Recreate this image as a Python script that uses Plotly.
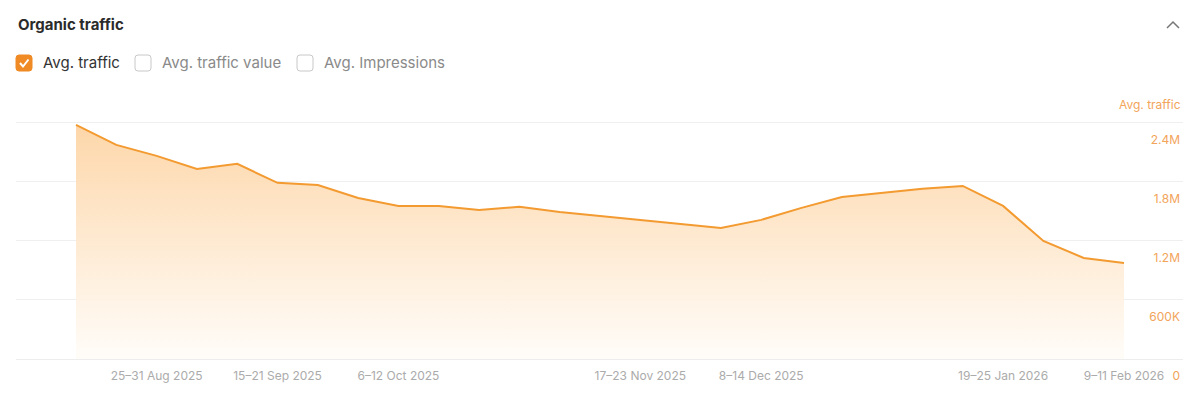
import plotly.graph_objects as go

# ---- data ----
weeks = [
    "11–17 Aug 2025", "18–24 Aug 2025", "25–31 Aug 2025", "1–7 Sep 2025",
    "8–14 Sep 2025", "15–21 Sep 2025", "22–28 Sep 2025", "29 Sep–5 Oct 2025",
    "6–12 Oct 2025", "13–19 Oct 2025", "20–26 Oct 2025", "27 Oct–2 Nov 2025",
    "3–9 Nov 2025", "10–16 Nov 2025", "17–23 Nov 2025", "24–30 Nov 2025",
    "1–7 Dec 2025", "8–14 Dec 2025", "15–21 Dec 2025", "22–28 Dec 2025",
    "29 Dec 2025–4 Jan 2026", "5–11 Jan 2026", "12–18 Jan 2026", "19–25 Jan 2026",
    "26 Jan–1 Feb 2026", "2–8 Feb 2026", "9–11 Feb 2026",
]
avg_traffic = [
    2380000, 2176000, 2064000, 1932000, 1983000, 1790000, 1769000, 1637000,
    1556000, 1556000, 1515000, 1546000, 1495000, 1454000, 1414000, 1373000,
    1332000, 1414000, 1536000, 1647000, 1688000, 1729000, 1759000, 1556000,
    1200000, 1027000, 976000,
]
shown_ticks = ["25–31 Aug 2025", "15–21 Sep 2025", "6–12 Oct 2025", "17–23 Nov 2025",
               "8–14 Dec 2025", "19–25 Jan 2026", "9–11 Feb 2026"]
y_tickvals = [0, 600000, 1200000, 1800000, 2400000]
y_ticktext = ["0", "600K", "1.2M", "1.8M", "2.4M"]

# ---- layout geometry (pixels) ----
W, H = 1200, 396
PL, PR, PT, PB = 16, 1183, 113, 359
pw, ph = PR - PL, PB - PT


def px(x):
    return (x - PL) / pw


def py(y):
    return (PB - y) / ph


ORANGE = "#F39A30"
FONT = "Inter, 'Open Sans', sans-serif"

fig = go.Figure()
fig.add_trace(go.Scatter(
    x=weeks, y=avg_traffic, mode="lines",
    line=dict(color=ORANGE, width=2),
    fill="tozeroy",
    fillgradient=dict(type="vertical", start=0, stop=2400000,
                      colorscale=[[0, "rgba(255,252,248,0.9)"], [1, "rgba(253,212,164,0.95)"]]),
    hoverinfo="skip", showlegend=False,
))

# x range so that first point sits at x=76 and last at x=1124
step = (1124 - 76) / (len(weeks) - 1)
xr0 = -(76 - PL) / step
xr1 = (len(weeks) - 1) + (PR - 1124) / step

fig.update_layout(
    width=W, height=H,
    margin=dict(l=PL, r=W - PR, t=PT, b=H - PB, pad=0),
    paper_bgcolor="white", plot_bgcolor="white",
    font=dict(family=FONT, size=12, color="#333"),
    xaxis=dict(
        type="category", categoryorder="array", categoryarray=weeks,
        range=[xr0, xr1], showgrid=False, zeroline=False,
        showline=True, linecolor="#EDEDED", linewidth=1,
        tickvals=shown_ticks, ticks="", tickfont=dict(size=12, color="#ABABAB"),
        ticklabelstandoff=6,
    ),
    yaxis=dict(
        range=[0, 2500000], side="right", tickvals=y_tickvals, ticktext=y_ticktext,
        ticklabelposition="inside", ticklabelshift=17, ticklabeloverflow="allow",
        tickfont=dict(size=12, color="#F2A45A"), ticks="",
        showgrid=True, gridcolor="#EFEFEF", gridwidth=1, zeroline=False, showline=False,
    ),
)

ann = [
    dict(text="<b>Organic traffic</b>", x=px(16), y=py(24), xanchor="left", yanchor="middle",
         font=dict(size=15, color="#2B2B2B")),
    dict(text="Avg. traffic", x=px(41), y=py(63), xanchor="left", yanchor="middle",
         font=dict(size=15, color="#333333")),
    dict(text="Avg. traffic value", x=px(160), y=py(63), xanchor="left", yanchor="middle",
         font=dict(size=15, color="#8A8A8A")),
    dict(text="Avg. Impressions", x=px(322), y=py(63), xanchor="left", yanchor="middle",
         font=dict(size=15, color="#8A8A8A")),
    dict(text="Avg. traffic", x=px(1183), y=py(104), xanchor="right", yanchor="middle",
         font=dict(size=12, color="#F2A45A")),
]
for a in ann:
    a.update(xref="paper", yref="paper", showarrow=False)
fig.update_layout(annotations=ann)


def rounded_box(x0, y0, s, r):
    x1, y1 = x0 + s, y0 + s
    pts = [
        f"M {px(x0 + r)},{py(y0)}", f"L {px(x1 - r)},{py(y0)}",
        f"Q {px(x1)},{py(y0)} {px(x1)},{py(y0 + r)}", f"L {px(x1)},{py(y1 - r)}",
        f"Q {px(x1)},{py(y1)} {px(x1 - r)},{py(y1)}", f"L {px(x0 + r)},{py(y1)}",
        f"Q {px(x0)},{py(y1)} {px(x0)},{py(y1 - r)}", f"L {px(x0)},{py(y0 + r)}",
        f"Q {px(x0)},{py(y0)} {px(x0 + r)},{py(y0)}", "Z",
    ]
    return " ".join(pts)


shapes = [
    dict(type="path", path=rounded_box(16, 55, 16, 3), fillcolor="#F08A24",
         line=dict(color="#F08A24", width=1)),
    dict(type="path", path=f"M {px(20)},{py(63)} L {px(23)},{py(66.5)} L {px(28.5)},{py(59.5)}",
         line=dict(color="white", width=2)),
    dict(type="path", path=rounded_box(135, 55, 16, 3), fillcolor="white",
         line=dict(color="#C8C8C8", width=1)),
    dict(type="path", path=rounded_box(297, 55, 16, 3), fillcolor="white",
         line=dict(color="#C8C8C8", width=1)),
    dict(type="path", path=f"M {px(1167)},{py(28)} L {px(1173)},{py(22)} L {px(1179)},{py(28)}",
         line=dict(color="#777777", width=1.5)),
]
for s in shapes:
    s.update(xref="paper", yref="paper", layer="above")
fig.update_layout(shapes=shapes)

fig.write_html("out.html")
